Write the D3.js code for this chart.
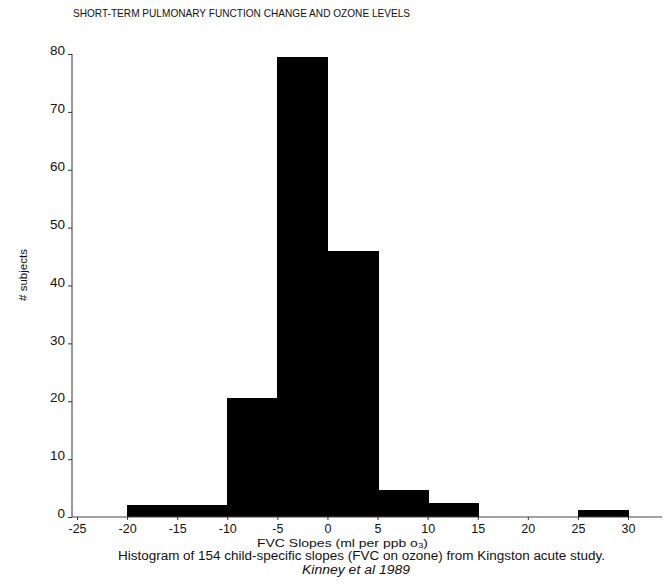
<!DOCTYPE html>
<html lang="en">
<head>
    <meta charset="UTF-8">
    <script src="https://cdn.jsdelivr.net/npm/d3@7"></script>
    <title>FVC slopes histogram</title>
    <style>
        body { margin: 0; background: #fff; }
        text { font-family: "Liberation Sans", Arial, sans-serif; fill: #111; }
    </style>
</head>
<body>
<script>

    // bins of FVC slope (ml per ppb o3)
    let binStarts = [-20, -15, -10, -5, 0, 5, 10, 15, 20, 25],
        binWidth = 5,
        counts = [2, 2, 20.5, 79.5, 46, 4.7, 2.4, 0, 0, 1.2]

    let xTicks = [-25, -20, -15, -10, -5, 0, 5, 10, 15, 20, 25, 30],
        yTicks = [0, 10, 20, 30, 40, 50, 60, 70, 80]

    let width = 665,
        height = 585

    let x = d3.scaleLinear()
            .domain([-25, 30])
            .range([77, 628]),
        y = d3.scaleLinear()
            .domain([0, 80])
            .range([517, 54])

    let svg = d3.select("body")
        .append("svg")
        .attr("width", width)
        .attr("height", height)

    // title
    svg.append("text")
        .attr("x", 73)
        .attr("y", 17)
        .attr("font-size", 10.1)
        .text("SHORT-TERM PULMONARY FUNCTION CHANGE AND OZONE LEVELS")

    // bars
    svg.append("g").selectAll("rect")
        .data(binStarts.map((b, i) => ({x0: b, n: counts[i]})).filter(d => d.n > 0))
        .enter()
        .append("rect")
        .attr("x", d => Math.round(x(d.x0)))
        .attr("width", d => Math.round(x(d.x0 + binWidth)) - Math.round(x(d.x0)) + 0.5)
        .attr("y", d => y(d.n))
        .attr("height", d => y(0) - y(d.n))
        .attr("fill", "#000")
        .attr("shape-rendering", "crispEdges")

    // y axis
    let yAxis = svg.append("g")
        .attr("transform", "translate(72,0)")
        .call(d3.axisLeft(y).tickValues(yTicks).tickSize(4).tickPadding(3))
    yAxis.select(".domain").attr("stroke", "#333").attr("d", "M0," + y(80) + "V" + y(0))
    yAxis.selectAll(".tick line").attr("stroke", "#333")
    yAxis.selectAll(".tick text")
        .attr("font-size", 13.5)
        .attr("font-family", "Liberation Sans, Arial, sans-serif")
        .attr("fill", "#111")
        .attr("dy", "0.05em")

    // x axis
    let xAxis = svg.append("g")
        .attr("transform", "translate(0," + y(0) + ")")
        .call(d3.axisBottom(x).tickValues(xTicks).tickSize(3).tickPadding(4)
            .tickFormat(d => String(d)))
    xAxis.select(".domain").attr("stroke", "#444").attr("d", "M72,0H662")
    xAxis.selectAll(".tick line").attr("stroke", "#333")
    xAxis.selectAll(".tick text")
        .attr("font-size", 12.5)
        .attr("font-family", "Liberation Sans, Arial, sans-serif")
        .attr("fill", "#111")

    // y label
    svg.append("text")
        .attr("transform", "translate(27,275) rotate(-90)")
        .attr("text-anchor", "middle")
        .attr("font-size", 11.5)
        .text("# subjects")

    // x label and captions
    let xl = svg.append("text")
        .attr("x", 257)
        .attr("y", 546.5)
        .attr("font-size", 11.5)
        .attr("textLength", 171)
        .attr("lengthAdjust", "spacingAndGlyphs")
    xl.append("tspan").text("FVC Slopes (ml per ppb o")
    xl.append("tspan").attr("font-size", 8).attr("dy", 1).text("3")
    xl.append("tspan").attr("dy", -1).text(")")

    svg.append("text")
        .attr("x", 118)
        .attr("y", 560)
        .attr("font-size", 12)
        .attr("textLength", 487)
        .attr("lengthAdjust", "spacingAndGlyphs")
        .text("Histogram of 154 child-specific slopes (FVC on ozone) from Kingston acute study.")

    svg.append("text")
        .attr("x", 302)
        .attr("y", 574)
        .attr("font-size", 12.5)
        .attr("font-style", "italic")
        .attr("textLength", 108)
        .attr("lengthAdjust", "spacingAndGlyphs")
        .text("Kinney et al 1989")

</script>
</body>
</html>
